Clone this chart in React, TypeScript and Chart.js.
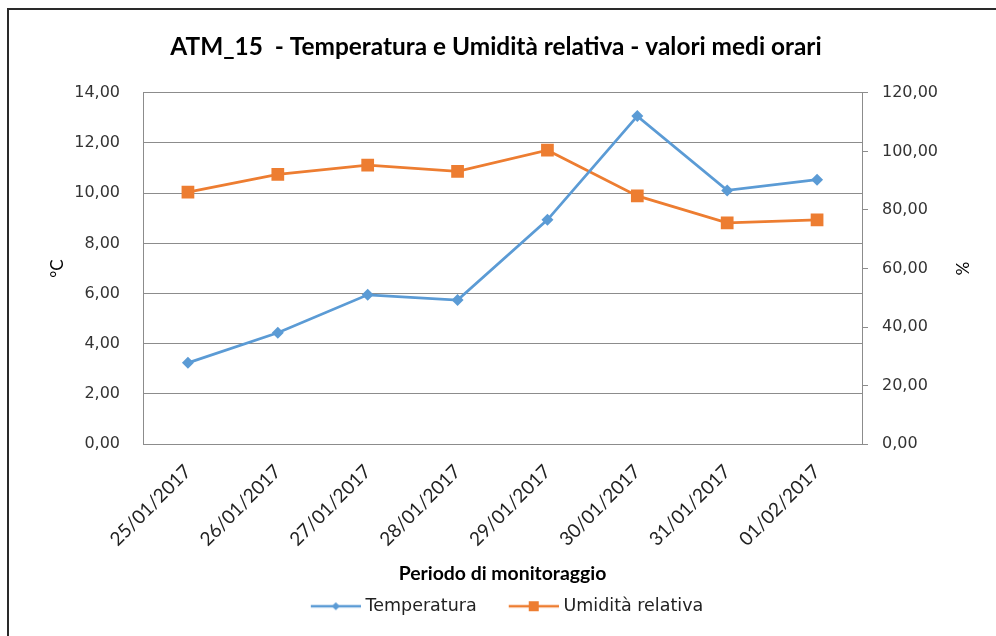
import React, { useEffect, useRef } from "react";
import { Chart, registerables } from "chart.js";

Chart.register(...registerables);

const categories = [
  "25/01/2017",
  "26/01/2017",
  "27/01/2017",
  "28/01/2017",
  "29/01/2017",
  "30/01/2017",
  "31/01/2017",
  "01/02/2017",
];
const temperatura = [3.24, 4.44, 5.95, 5.74, 8.94, 13.07, 10.11, 10.54];
const umidita = [86.1, 92.1, 95.3, 93.2, 100.4, 84.8, 75.6, 76.6];

const titleText = "ATM_15  - Temperatura e Umidità relativa - valori medi orari";
const xTitle = "Periodo di monitoraggio";
const yLeftTitle = "°C";
const yRightTitle = "%";
const seriesNames = ["Temperatura", "Umidità relativa"];

const BLUE = "#5B9BD5";
const ORANGE = "#ED7D31";
const GRID = "#8C8C8C";

function makeIcon(color: string, kind: "diamond" | "square") {
  const c = document.createElement("canvas");
  c.width = 76;
  c.height = 14;
  const ctx = c.getContext("2d")!;
  ctx.strokeStyle = color;
  ctx.lineWidth = 2.5;
  ctx.beginPath();
  ctx.moveTo(26, 7);
  ctx.lineTo(76, 7);
  ctx.stroke();
  ctx.fillStyle = color;
  const cx = 51;
  if (kind === "diamond") {
    ctx.beginPath();
    ctx.moveTo(cx, 3);
    ctx.lineTo(cx + 4, 7);
    ctx.lineTo(cx, 11);
    ctx.lineTo(cx - 4, 7);
    ctx.closePath();
    ctx.fill();
  } else {
    ctx.fillRect(cx - 5, 2, 10, 10);
  }
  return c;
}

const fmt = (v: number | string) => Number(v).toFixed(2).replace(".", ",");

export default function App() {
  const ref = useRef<HTMLCanvasElement | null>(null);

  useEffect(() => {
    if (!ref.current) return;
    const icons = [makeIcon(BLUE, "diamond"), makeIcon(ORANGE, "square")];
    const chart = new Chart(ref.current, {
      type: "line",
      data: {
        labels: categories,
        datasets: [
          {
            label: seriesNames[0],
            data: temperatura,
            borderColor: BLUE,
            backgroundColor: BLUE,
            borderWidth: 2.75,
            pointStyle: "rectRot",
            pointRadius: 6,
            pointBorderWidth: 0,
            yAxisID: "y",
            tension: 0,
          },
          {
            label: seriesNames[1],
            data: umidita,
            borderColor: ORANGE,
            backgroundColor: ORANGE,
            borderWidth: 2.75,
            pointStyle: "rect",
            pointRadius: 9,
            pointBorderWidth: 0,
            yAxisID: "y1",
            tension: 0,
          },
        ],
      },
      options: {
        responsive: false,
        animation: false,
        layout: { padding: { left: 16, right: 20, top: 0, bottom: 11 } },
        plugins: {
          title: {
            display: true,
            text: titleText,
            color: "#000",
            font: { family: "Lato", size: 24.4, weight: "bold" },
            padding: { top: 32.4, bottom: 31.1 },
          },
          legend: {
            position: "bottom",
            labels: {
              usePointStyle: true,
              pointStyleWidth: 68,
              padding: 10,
              color: "#222",
              font: { family: "DejaVu Sans", size: 17.5 },
              generateLabels: (ch: any) => {
                const items = Chart.defaults.plugins.legend.labels.generateLabels(ch);
                return items.map((it: any, i: number) => ({ ...it, pointStyle: icons[i] }));
              },
            },
          },
          tooltip: { enabled: false },
        },
        scales: {
          x: {
            offset: true,
            grid: { display: false, drawTicks: false },
            border: { display: true, color: GRID, width: 1 },
            ticks: {
              minRotation: 45,
              maxRotation: 45,
              padding: 16,
              color: "#222",
              font: { family: "Lato", size: 19 },
            },
            title: {
              display: true,
              text: xTitle,
              color: "#000",
              font: { family: "Lato", size: 19.4, weight: "bold" },
              padding: { top: 4, bottom: 2 },
            },
            afterFit: (s: any) => {
              s.height = 143.3;
            },
          },
          y: {
            position: "left",
            min: 0,
            max: 14,
            grid: { color: GRID, lineWidth: 1, drawTicks: false },
            border: { display: true, color: GRID, width: 1 },
            ticks: {
              stepSize: 2,
              padding: 23,
              color: "#333",
              font: { family: "DejaVu Sans", size: 16 },
              callback: (v: any) => fmt(v),
            },
            title: {
              display: true,
              text: yLeftTitle,
              color: "#000",
              font: { family: "Lato", size: 17 },
              padding: { top: 31, bottom: 0 },
            },
            afterFit: (s: any) => {
              s.width = 127;
            },
          },
          y1: {
            position: "right",
            min: 0,
            max: 120,
            grid: { drawOnChartArea: false, color: GRID, tickLength: 6, drawTicks: true },
            border: { display: true, color: GRID, width: 1 },
            ticks: {
              stepSize: 20,
              padding: 14,
              color: "#333",
              font: { family: "DejaVu Sans", size: 16 },
              callback: (v: any) => fmt(v),
            },
            title: {
              display: true,
              text: yRightTitle,
              color: "#000",
              font: { family: "Lato", size: 17 },
              padding: { top: 4, bottom: 0 },
            },
            afterFit: (s: any) => {
              s.width = 114;
            },
          },
        },
      },
    });
    return () => chart.destroy();
  }, []);

  return (
    <div style={{ position: "absolute", left: 0, top: 0, width: 996, height: 636, background: "#fff", overflow: "hidden" }}>
      <div
        style={{
          position: "absolute",
          left: 7,
          top: 8,
          width: 1000,
          height: 640,
          borderLeft: "2px solid #2a2a2a",
          borderTop: "2px solid #2a2a2a",
        }}
      />
      <canvas ref={ref} width={996} height={636} style={{ position: "absolute", left: 0, top: 0 }} />
    </div>
  );
}
